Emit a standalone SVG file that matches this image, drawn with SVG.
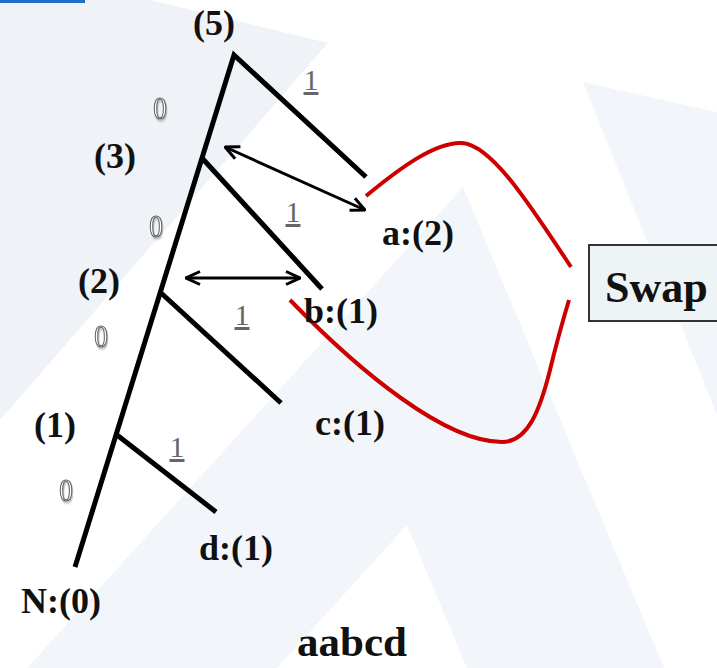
<svg xmlns="http://www.w3.org/2000/svg" width="717" height="668" viewBox="0 0 717 668">
<style>
.lbl{font-family:"Liberation Serif","Times New Roman",serif;font-weight:bold;font-size:36px;fill:#111}
.big{font-family:"Liberation Serif","Times New Roman",serif;font-weight:bold;font-size:44px;fill:#111}
.cap{font-family:"Liberation Serif","Times New Roman",serif;font-weight:bold;font-size:43px;fill:#111}
.one{font-family:"Liberation Serif","Times New Roman",serif;font-size:30px;fill:#666;text-anchor:middle;text-decoration:underline}
.zero{font-family:"Liberation Serif","Times New Roman",serif;font-size:32px;fill:#fff;stroke:#666;stroke-width:1.2;text-anchor:middle;filter:url(#zs)}
.edge{stroke:#000;stroke-width:5;fill:none;stroke-linecap:butt}
.arr{stroke:#000;stroke-width:3;fill:none}
.red{stroke:#cc0000;stroke-width:4;fill:none;stroke-linecap:butt}
</style>
<defs>
<marker id="ah" viewBox="0 0 16 16" refX="15" refY="8" markerWidth="16" markerHeight="16" markerUnits="userSpaceOnUse" orient="auto-start-reverse">
<polyline points="1,1.5 15,8 1,14.5" fill="none" stroke="#000" stroke-width="3"/>
</marker>
<filter id="zs" x="-50%" y="-50%" width="200%" height="200%">
<feDropShadow dx="1" dy="2" stdDeviation="0.8" flood-color="#999" flood-opacity="0.7"/>
</filter>
</defs>
<rect width="717" height="668" fill="#fff"/>
<g id="background">
<polygon points="0,0 150,0 328,43 0,420" fill="#eff2f6"/>
<polygon points="463,187 27,668 664,668" fill="#f2f6fa"/>
<polygon points="407,525 277,668 467,668" fill="#fff"/>
<polygon points="583,82 717,112 717,415" fill="#f2f6fa"/>
<rect x="0" y="0" width="85" height="3" fill="#1e6fc5"/>
</g>
<g id="connectors">
<path class="edge" d="M75,567 L234,55 L366,177"/>
<path class="edge" d="M202,158 L322,289"/>
<path class="edge" d="M160,292 L281,403"/>
<path class="edge" d="M117,435 L216,512"/>
<path class="arr" d="M225,147 L365,210" marker-start="url(#ah)" marker-end="url(#ah)"/>
<path class="arr" d="M186,278 L300,278" marker-start="url(#ah)" marker-end="url(#ah)"/>
<path class="red" d="M366,196 C400,168 435,142 462,143 C492,145 530,205 571,267"/>
<path class="red" d="M290,300 C360,372 445,442 502,442 C528,442 540,410 550,370 C556,345 563,320 569,300"/>
<g id="edge-labels">
<text class="one" x="311" y="90">1</text>
<text class="one" x="293" y="222">1</text>
<text class="one" x="242" y="325">1</text>
<text class="one" x="177" y="457">1</text>
<text class="zero" transform="translate(160,0) scale(0.85,1)" x="0" y="119">0</text>
<text class="zero" transform="translate(156,0) scale(0.85,1)" x="0" y="237">0</text>
<text class="zero" transform="translate(101,0) scale(0.85,1)" x="0" y="347">0</text>
<text class="zero" transform="translate(66,0) scale(0.85,1)" x="0" y="501">0</text>
</g>
</g>
<g id="n5"><text class="lbl" x="193" y="35">(5)</text></g>
<g id="n3"><text class="lbl" x="94" y="168">(3)</text></g>
<g id="n2"><text class="lbl" x="78" y="293">(2)</text></g>
<g id="n1"><text class="lbl" x="34" y="437">(1)</text></g>
<g id="nN"><text class="lbl" x="21" y="613">N:(0)</text></g>
<g id="na"><text class="lbl" x="382" y="245">a:(2)</text></g>
<g id="nb"><text class="lbl" x="304" y="323">b:(1)</text></g>
<g id="nc"><text class="lbl" x="315" y="435">c:(1)</text></g>
<g id="nd"><text class="lbl" x="199" y="560">d:(1)</text></g>
<g id="swap">
<rect x="589" y="245" width="140" height="76" fill="#eef3f6" stroke="#333" stroke-width="2"/>
<text class="big" x="605" y="302">Swap</text>
</g>
<g id="caption"><text class="cap" x="297" y="656">aabcd</text></g>
</svg>
